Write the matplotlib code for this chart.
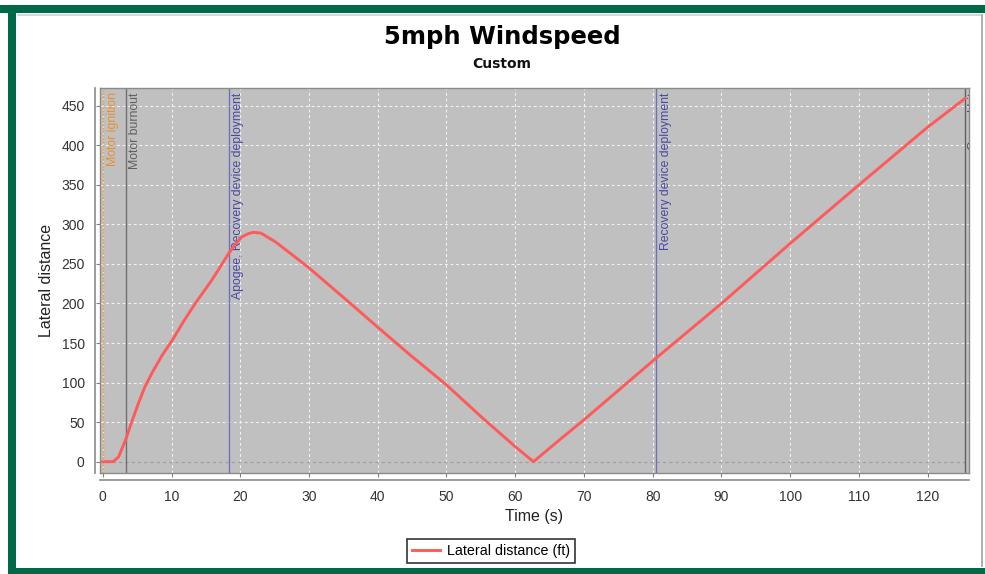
import matplotlib
matplotlib.use("Agg")
import matplotlib.pyplot as plt
from matplotlib.patches import Rectangle

plt.rcParams["font.family"] = ["Liberation Sans", "DejaVu Sans"]

# Flight data: lateral distance vs time
time_s = [0, 1.5, 2.3, 3.3, 4.2, 5.2, 6.1, 7.15, 8.6, 10.15, 11.8, 13.45, 15.9,
          18.3, 19.3, 20.2, 21.1, 21.9, 23.0, 25.1, 27.5, 30, 35.5, 40, 44.7,
          50, 55.4, 60, 62.65, 66.5, 70, 80.5, 90, 100, 110, 120, 125.4]
lateral_ft = [0, 0, 6, 27, 50, 74, 94, 112, 134, 154, 178, 200, 230,
              263, 275, 284, 288, 290, 289, 278, 262, 245, 204, 170, 135,
              97, 54, 19, 0, 28, 53, 131, 200, 276, 350, 423, 459]

# Flight events
event_times = [0.05, 3.35, 18.3, 80.5, 125.4]
event_labels = ["Motor ignition", "Motor burnout", "Apogee, Recovery device deployment",
                "Recovery device deployment", "Ground hit"]
event_colors = ["#F0A040", "#707070", "#7070B8", "#7070B8", "#606060"]
event_text_colors = ["#E89030", "#606060", "#4848A8", "#4848A8", "#505050"]

x_ticks = list(range(0, 121, 10))
y_ticks = list(range(0, 451, 50))

W, H = 985, 574
fig = plt.figure(figsize=(W / 100, H / 100), dpi=100)
fig.patch.set_facecolor("white")

# Green frame around the panel
green = "#006A48"
def frame_rect(x0, y0, x1, y1, color):
    fig.patches.append(Rectangle((x0 / W, 1 - y1 / H), (x1 - x0) / W, (y1 - y0) / H,
                                 transform=fig.transFigure, facecolor=color,
                                 edgecolor="none", zorder=0))
frame_rect(0, 5, W, 13, green)
frame_rect(8, 5, 16, H, green)
frame_rect(8, 568, W, H, green)
frame_rect(17, 14, 983, 16, "#D8D8D8")
frame_rect(981, 14, 983, 567, "#B0B0B0")

ax_l, ax_r, ax_t, ax_b = 100, 969, 88, 473
ax = fig.add_axes([ax_l / W, 1 - ax_b / H, (ax_r - ax_l) / W, (ax_b - ax_t) / H])
ax.set_facecolor("#C0C0C0")
ax.set_xlim(-0.4, 126.0)
ax.set_ylim(-14.3, 472.4)

for xv in x_ticks:
    ax.axvline(xv, color="white", lw=0.8, ls=(0, (2.5, 2.5)), alpha=0.8, zorder=1)
for yv in y_ticks:
    if yv == 0:
        ax.axhline(yv, color="#A0A0A0", lw=0.9, ls=(0, (2.5, 2.5)), zorder=1)
    else:
        ax.axhline(yv, color="white", lw=0.8, ls=(0, (2.5, 2.5)), alpha=0.8, zorder=1)

for t, lab, c, tc in zip(event_times, event_labels, event_colors, event_text_colors):
    ls = (0, (1.5, 1)) if lab == "Motor ignition" else "-"
    ax.axvline(t, color=c, lw=1.0, ls=ls, zorder=2)
    ax.text(t + 0.5, 467, lab, rotation=90, ha="left", va="top", fontsize=8.8,
            color=tc, zorder=3, clip_on=True)

ax.plot(time_s, lateral_ft, color="#FF5A5A", lw=2.1, zorder=4,
        label="Lateral distance (ft)")

# Plot box outline
for s in ax.spines.values():
    s.set_color("#8A8A8A")
    s.set_linewidth(1.0)

ax.set_xticks(x_ticks)
ax.set_yticks(y_ticks)
ax.tick_params(axis="both", colors="#808080", length=3, width=0.8,
               labelcolor="#333333", labelsize=10)

# Outward axis lines
fig.add_artist(plt.Line2D([95 / W, 95 / W], [1 - 88 / H, 1 - 473 / H],
                          transform=fig.transFigure, color="#8A8A8A", lw=1.2))
fig.add_artist(plt.Line2D([100 / W, 969 / W], [1 - 480 / H, 1 - 480 / H],
                          transform=fig.transFigure, color="#8A8A8A", lw=1.2))
ax.xaxis.set_tick_params(pad=9)
ax.yaxis.set_tick_params(pad=8)

ax.set_xlabel("Time (s)", fontsize=11.5, color="#222222", labelpad=4)
ax.set_ylabel("Lateral distance", fontsize=11.5, color="#222222", labelpad=5)

fig.text(502 / W, 1 - 37 / H, "5mph Windspeed", ha="center", va="center",
         fontsize=17.5, fontweight="bold", color="black", family="DejaVu Sans")
fig.text(502 / W, 1 - 64 / H, "Custom", ha="center", va="center",
         fontsize=10, fontweight="bold", color="#111111", family="DejaVu Sans")

leg = fig.legend(loc="center", bbox_to_anchor=(491 / W, 1 - 551 / H), frameon=True,
                 fancybox=False, edgecolor="black", fontsize=10.3, handlelength=2,
                 borderpad=0.35, handletextpad=0.5, borderaxespad=0)
leg.get_frame().set_linewidth(1.2)

fig.savefig("out.png", dpi=100)
